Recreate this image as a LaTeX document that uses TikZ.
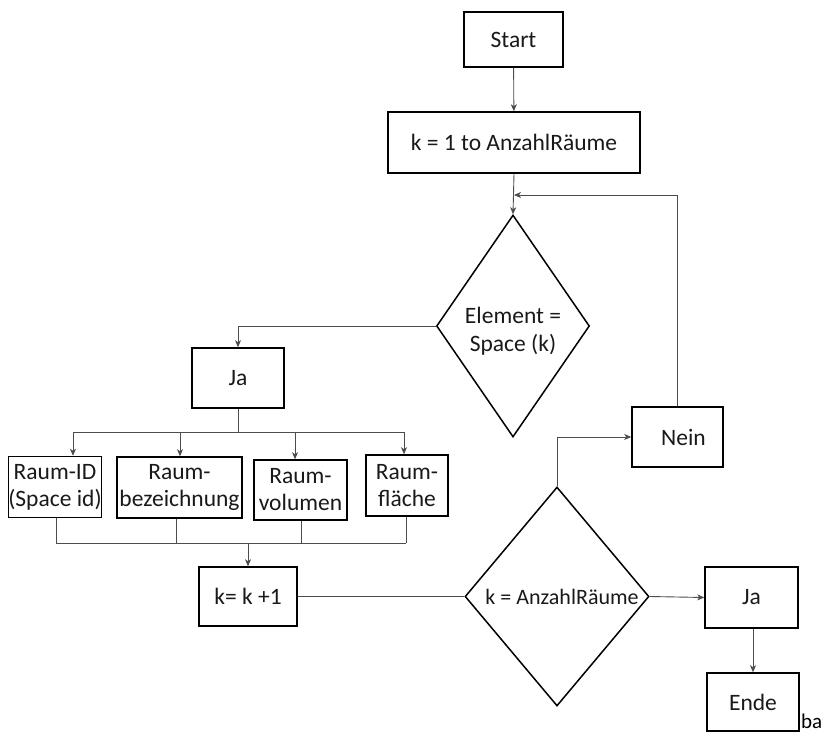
\documentclass[tikz,border=0pt]{standalone}
\usepackage{fontspec}
\setmainfont{Carlito}
\usetikzlibrary{shapes.geometric,arrows.meta}
\begin{document}
\begin{tikzpicture}[x=1pt,y=-1pt,
  every node/.style={font=\fontsize{23.5}{27}\selectfont,text=black!90},
  box/.style={draw=black,line width=1.5pt,inner sep=0pt,align=center},
  decision/.style={draw=black,line width=1.5pt,diamond,inner sep=0pt,align=center},
  conn/.style={draw=black!70,line width=0.9pt},
  arr/.style={conn,-{Stealth[length=7,width=6,inset=2]}}]
\useasboundingbox (0,0) rectangle (827,733);

% main column
\node[box,minimum width=99,minimum height=55] (start) at (513.5,39.5) {Start};
\node[box,minimum width=252,minimum height=61] (kbox) at (514,142.5) {k = 1 to AnzahlRäume};
\node[decision,minimum width=153,minimum height=222] (d1) at (513,326) {};
\node[align=center] (d1t) at (513,331) {Element =\\[1pt]Space (k)};

% yes branch of the first decision
\node[box,minimum width=92,minimum height=60] (ja1) at (238,378) {Ja};
\node[box,minimum width=92,minimum height=61] (r1) at (55,487) {Raum-ID\\(Space id)};
\node[box,minimum width=125,minimum height=61] (r2) at (179.5,487.5) {Raum-\\bezeichnung};
\node[box,minimum width=93,minimum height=60] (r3) at (300.5,490) {Raum-\\volumen};
\node[box,minimum width=82,minimum height=61] (r4) at (407,485.5) {Raum-\\fläche};
\node[box,minimum width=98,minimum height=59] (kk) at (248,596.5) {k= k +1};

% second decision and its outcomes
\node[decision,minimum width=184,minimum height=219] (d2) at (557,596.5) {};
\node[font=\fontsize{22}{26}\selectfont] (d2t) at (562,596.5) {k = AnzahlRäume};
\node[box,minimum width=91,minimum height=60] (nein) at (677.5,437) {\hspace*{12pt}Nein};
\node[box,minimum width=93,minimum height=61] (ja2) at (751.5,597.5) {Ja};
\node[box,minimum width=92,minimum height=58] (ende) at (753,702) {Ende};
\node[anchor=base west,inner sep=0pt,font=\fontsize{21}{25}\selectfont,text=black] (ba) at (801,728) {ba};

% bus coordinates
\coordinate (b1) at (73,432);
\coordinate (b2) at (180,432);
\coordinate (b3) at (295,432);
\coordinate (b4) at (404,432);
\coordinate (c1) at (56,543);
\coordinate (c2) at (176,543);
\coordinate (c3) at (301,543);
\coordinate (c4) at (406,543);
\coordinate (cm) at (248,543);
\coordinate (loopin) at (514,195);

% connectors
\draw[arr] (start) -- (kbox);
\draw[arr] (kbox.south) -- (d1.north);
\draw[arr] (nein.north) -- (nein.north |- loopin) -- (loopin);
\draw[arr] (d1.west) -| (ja1.north);
\draw[conn] (ja1.south) -- (ja1.south |- b1);
\draw[conn] (b1) -- (b4);
\draw[arr] (b1) -- (b1 |- r1.north);
\draw[arr] (b2) -- (b2 |- r2.north);
\draw[arr] (b3) -- (b3 |- r3.north);
\draw[arr] (b4) -- (b4 |- r4.north);
\draw[conn] (c1 |- r1.south) -- (c1);
\draw[conn] (c2 |- r2.south) -- (c2);
\draw[conn] (c3 |- r3.south) -- (c3);
\draw[conn] (c4 |- r4.south) -- (c4);
\draw[conn] (c1) -- (c4);
\draw[arr] (cm) -- (cm |- kk.north);
\draw[conn] (d2.west) -- (d2.west -| kk.east);
\draw[arr] (d2.north) |- (nein.west);
\draw[arr] (d2.east) -- (ja2.west);
\draw[arr] (ja2.south -| ende.north) -- (ende.north);
\end{tikzpicture}
\end{document}
